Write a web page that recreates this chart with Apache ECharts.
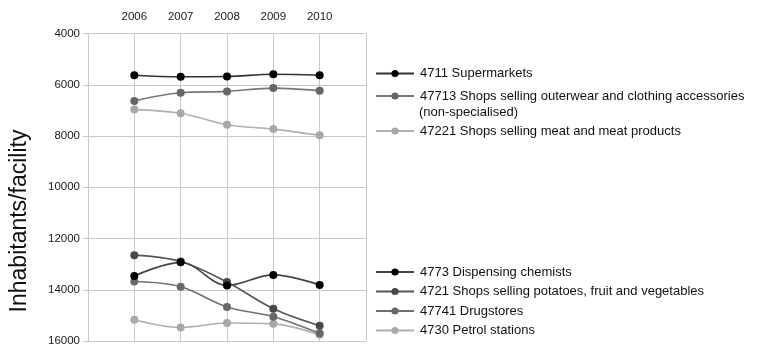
<!DOCTYPE html>
<html>
<head>
<meta charset="utf-8">
<script src="https://cdn.jsdelivr.net/npm/echarts@6/dist/echarts.min.js"></script>
<style>html,body{margin:0;padding:0;background:#fff}#c{width:764px;height:347px}</style>
</head>
<body>
<div id="c"></div>
<script>
var years = [2006, 2007, 2008, 2009, 2010];
var yTicks = [4000, 6000, 8000, 10000, 12000, 14000, 16000];
var seriesNames = [
  '4711 Supermarkets',
  '47713 Shops selling outerwear and clothing accessories',
  '47221 Shops selling meat and meat products',
  '4773 Dispensing chemists',
  '4721 Shops selling potatoes, fruit and vegetables',
  '47741 Drugstores',
  '4730 Petrol stations'
];
var wrapLine = '(non-specialised)';
var supermarkets = [5630, 5690, 5680, 5590, 5630];
var outerwear = [6630, 6310, 6260, 6130, 6230];
var meat = [6970, 7110, 7560, 7730, 7970];
var chemists = [13460, 12930, 13830, 13420, 13810];
var potatoes = [12650, 12900, 13700, 14740, 15400];
var drugstores = [13680, 13880, 14670, 15050, 15700];
var petrol = [15170, 15470, 15300, 15330, 15760];

var values = [supermarkets, outerwear, meat, chemists, potatoes, drugstores, petrol];
var markerColors = ['#000000', '#666666', '#a8a8a8', '#000000', '#484848', '#686868', '#a8a8a8'];
var lineColors = ['#333333', '#777777', '#b0b0b0', '#444444', '#555555', '#707070', '#b0b0b0'];
var legendCenters = [74, 96.5, 131.5, 272.5, 292, 311.5, 331];

var font = 'Liberation Sans, Arial, sans-serif';
var chart = echarts.init(document.getElementById('c'), null, {renderer: 'canvas'});

var series = values.map(function (v, i) {
  return {
    name: seriesNames[i],
    type: 'line',
    smooth: 0.35,
    symbol: 'circle',
    symbolSize: 8,
    data: v.map(function (y, j) { return [years[j], y]; }),
    itemStyle: {color: markerColors[i]},
    lineStyle: {color: lineColors[i], width: 1.6},
    z: 10 - i
  };
});

var legends = seriesNames.map(function (n, i) {
  return {
    data: [n],
    left: 375,
    top: legendCenters[i] - 7,
    itemWidth: 38,
    itemHeight: 9,
    padding: 0,
    textStyle: {fontSize: 13, color: '#111', fontFamily: font, padding: [0, 0, 0, 1]},
    selectedMode: false
  };
});

chart.setOption({
  animation: false,
  grid: {left: 88, top: 33.5, right: 398, bottom: 3},
  legend: legends,
  xAxis: {
    type: 'value',
    position: 'top',
    min: 2005,
    max: 2011,
    interval: 1,
    axisLine: {show: false},
    axisTick: {show: false},
    splitLine: {show: true, lineStyle: {color: '#c8c8c8', width: 1}},
    axisLabel: {
      margin: 11,
      fontSize: 11.5,
      color: '#1a1a1a',
      fontFamily: font,
      formatter: function (v) { return years.indexOf(v) >= 0 ? String(v) : ''; }
    }
  },
  yAxis: {
    type: 'value',
    inverse: true,
    min: yTicks[0],
    max: yTicks[yTicks.length - 1],
    interval: 2000,
    axisLine: {show: false},
    axisTick: {show: true, length: 5, lineStyle: {color: '#c8c8c8'}},
    splitLine: {show: true, lineStyle: {color: '#c8c8c8', width: 1}},
    axisLabel: {
      margin: 8,
      fontSize: 11.5,
      color: '#1a1a1a',
      fontFamily: font,
      formatter: function (v) { return String(v); }
    }
  },
  graphic: [
    {
      type: 'text',
      x: 20,
      y: 221,
      rotation: Math.PI / 2,
      style: {text: 'Inhabitants/facility', font: '23px ' + font, fill: '#111', textAlign: 'center', textVerticalAlign: 'middle'}
    },
    {
      type: 'text',
      x: 419,
      y: 112,
      style: {text: wrapLine, font: '13px ' + font, fill: '#111', textAlign: 'left', textVerticalAlign: 'middle'}
    }
  ],
  series: series
});
</script>
</body>
</html>
